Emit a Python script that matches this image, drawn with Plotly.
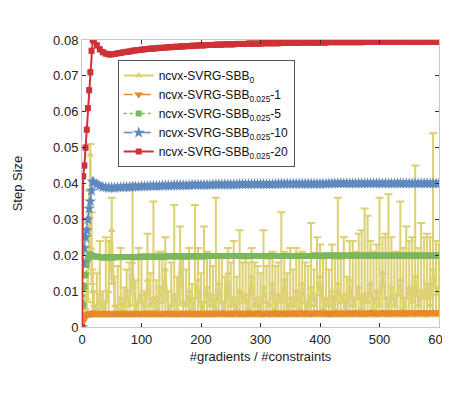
import plotly.graph_objects as go

# ---------------- data ----------------
X = [0, 2, 4, 6, 8, 10, 12, 14, 16, 18, 20] + list(range(25, 601, 5))

SBB0 = [0.000, 0.004, 0.006, 0.003, 0.008, 0.015, 0.030, 0.048, 0.022, 0.010, 0.006,
        0.005, 0.009, 0.004, 0.007, 0.010, 0.027, 0.006, 0.005, 0.008, 0.004,
        0.010, 0.006, 0.018, 0.005, 0.007, 0.009, 0.004, 0.013, 0.006, 0.008,
        0.005, 0.011, 0.007, 0.016, 0.004, 0.006, 0.009, 0.005, 0.020, 0.007,
        0.006, 0.010, 0.005, 0.008, 0.013, 0.004, 0.007, 0.011, 0.006, 0.009,
        0.005, 0.012, 0.007, 0.004, 0.015, 0.006, 0.008, 0.005, 0.010, 0.007,
        0.009, 0.005, 0.014, 0.006, 0.008, 0.004, 0.011, 0.007, 0.006, 0.012,
        0.005, 0.009, 0.007, 0.013, 0.004, 0.008, 0.006, 0.010, 0.005, 0.012,
        0.007, 0.004, 0.011, 0.006, 0.009, 0.014, 0.005, 0.008, 0.006, 0.010,
        0.005, 0.012, 0.007, 0.009, 0.004, 0.013, 0.006, 0.008, 0.011, 0.005,
        0.009, 0.007, 0.012, 0.005, 0.010, 0.006, 0.015, 0.008, 0.004, 0.011,
        0.006, 0.009, 0.013, 0.005, 0.008, 0.011, 0.007, 0.014, 0.006, 0.010,
        0.008, 0.012, 0.006, 0.016, 0.009, 0.011]
SBB0_ERR = [0.000, 0.002, 0.003, 0.002, 0.004, 0.006, 0.008, 0.003, 0.010, 0.006, 0.004,
            0.010, 0.015, 0.006, 0.018, 0.014, 0.009, 0.008, 0.012, 0.014, 0.007,
            0.006, 0.012, 0.022, 0.008, 0.015, 0.010, 0.006, 0.013, 0.009, 0.027,
            0.008, 0.010, 0.014, 0.009, 0.006, 0.012, 0.025, 0.009, 0.008, 0.012,
            0.010, 0.012, 0.007, 0.026, 0.009, 0.011, 0.021, 0.010, 0.014, 0.008,
            0.031, 0.008, 0.013, 0.010, 0.007, 0.012, 0.016, 0.009, 0.017, 0.011,
            0.010, 0.013, 0.008, 0.012, 0.009, 0.011, 0.016, 0.010, 0.013, 0.009,
            0.012, 0.009, 0.025, 0.008, 0.011, 0.014, 0.010, 0.012, 0.015, 0.009,
            0.011, 0.013, 0.018, 0.010, 0.016, 0.009, 0.014, 0.012, 0.010, 0.013,
            0.014, 0.024, 0.012, 0.016, 0.010, 0.011, 0.018, 0.013, 0.015, 0.022,
            0.024, 0.024, 0.012, 0.016, 0.013, 0.030, 0.010, 0.018, 0.033, 0.014,
            0.015, 0.012, 0.022, 0.017, 0.020, 0.013, 0.018, 0.031, 0.016, 0.019,
            0.017, 0.014, 0.019, 0.038, 0.015, 0.012]
SBB0_ERR_MINUS = [0.000, 0.001, 0.003, 0.000, 0.005, 0.008, 0.010, 0.010, 0.010, 0.007, 0.003,
                  0.002, 0.006, 0.001, 0.004, 0.007, 0.015, 0.003, 0.002, 0.005, 0.001,
                  0.007, 0.003, 0.012, 0.002, 0.004, 0.006, 0.001, 0.010, 0.003, 0.005,
                  0.002, 0.008, 0.004, 0.012, 0.001, 0.003, 0.006, 0.002, 0.014, 0.004,
                  0.003, 0.007, 0.002, 0.005, 0.010, 0.001, 0.004, 0.008, 0.003, 0.006,
                  0.002, 0.009, 0.004, 0.001, 0.011, 0.003, 0.005, 0.002, 0.007, 0.004,
                  0.006, 0.002, 0.010, 0.003, 0.005, 0.001, 0.008, 0.004, 0.003, 0.009,
                  0.002, 0.006, 0.004, 0.010, 0.001, 0.005, 0.003, 0.007, 0.002, 0.009,
                  0.004, 0.001, 0.008, 0.003, 0.006, 0.010, 0.002, 0.005, 0.003, 0.007,
                  0.002, 0.009, 0.004, 0.006, 0.001, 0.010, 0.003, 0.005, 0.008, 0.002,
                  0.006, 0.004, 0.009, 0.002, 0.007, 0.003, 0.011, 0.005, 0.001, 0.008,
                  0.003, 0.006, 0.010, 0.002, 0.005, 0.008, 0.004, 0.011, 0.003, 0.007,
                  0.005, 0.009, 0.003, 0.012, 0.006, 0.008]

SBB_1 = [0.0, 0.0015, 0.0025, 0.0030, 0.0033, 0.0035, 0.0036, 0.0037, 0.0037, 0.0037, 0.0037,
         0.0037, 0.0036, 0.0037, 0.0037, 0.0036, 0.0037, 0.0037, 0.0036, 0.0037, 0.0037,
         0.0037, 0.0036, 0.0037, 0.0037, 0.0037, 0.0036, 0.0037, 0.0037, 0.0037, 0.0037,
         0.0037, 0.0037, 0.0036, 0.0037, 0.0037, 0.0037, 0.0037, 0.0036, 0.0037, 0.0037,
         0.0037, 0.0037, 0.0037, 0.0037, 0.0036, 0.0037, 0.0037, 0.0037, 0.0037, 0.0037,
         0.0037, 0.0037, 0.0038, 0.0037, 0.0037, 0.0037, 0.0037, 0.0038, 0.0037, 0.0037,
         0.0037, 0.0038, 0.0037, 0.0037, 0.0038, 0.0037, 0.0037, 0.0038, 0.0037, 0.0038,
         0.0038, 0.0037, 0.0038, 0.0038, 0.0037, 0.0038, 0.0038, 0.0037, 0.0038, 0.0038,
         0.0038, 0.0038, 0.0037, 0.0038, 0.0038, 0.0038, 0.0038, 0.0038, 0.0037, 0.0038,
         0.0038, 0.0038, 0.0038, 0.0038, 0.0038, 0.0038, 0.0038, 0.0039, 0.0038, 0.0038,
         0.0038, 0.0038, 0.0039, 0.0038, 0.0038, 0.0038, 0.0039, 0.0038, 0.0038, 0.0039,
         0.0038, 0.0039, 0.0038, 0.0039, 0.0038, 0.0039, 0.0039, 0.0038, 0.0039, 0.0039,
         0.0039, 0.0038, 0.0039, 0.0039, 0.0039, 0.0039]

SBB_5 = [0.0, 0.0060, 0.0112, 0.0145, 0.0173, 0.0190, 0.0200, 0.0202, 0.0200, 0.0198, 0.0197,
         0.0196, 0.0195, 0.0194, 0.0194, 0.0194, 0.0194, 0.0194, 0.0195, 0.0195, 0.0195,
         0.0195, 0.0195, 0.0195, 0.0195, 0.0195, 0.0196, 0.0196, 0.0196, 0.0196, 0.0196,
         0.0196, 0.0196, 0.0196, 0.0196, 0.0197, 0.0197, 0.0197, 0.0197, 0.0197, 0.0197,
         0.0197, 0.0197, 0.0197, 0.0197, 0.0197, 0.0197, 0.0197, 0.0198, 0.0198, 0.0198,
         0.0198, 0.0198, 0.0198, 0.0198, 0.0198, 0.0198, 0.0198, 0.0198, 0.0198, 0.0198,
         0.0198, 0.0198, 0.0198, 0.0198, 0.0198, 0.0198, 0.0198, 0.0198, 0.0198, 0.0198,
         0.0198, 0.0198, 0.0198, 0.0198, 0.0198, 0.0198, 0.0198, 0.0198, 0.0198, 0.0198,
         0.0198, 0.0198, 0.0198, 0.0199, 0.0199, 0.0198, 0.0199, 0.0199, 0.0199, 0.0199,
         0.0199, 0.0199, 0.0199, 0.0199, 0.0199, 0.0199, 0.0199, 0.0199, 0.0199, 0.0199,
         0.0199, 0.0199, 0.0199, 0.0199, 0.0199, 0.0199, 0.0199, 0.0199, 0.0199, 0.0199,
         0.0199, 0.0199, 0.0199, 0.0199, 0.0199, 0.0199, 0.0199, 0.0199, 0.0199, 0.0199,
         0.0199, 0.0199, 0.0199, 0.0199, 0.0199, 0.0199]

SBB_10 = [0.0, 0.0180, 0.0220, 0.0250, 0.0270, 0.0300, 0.0330, 0.0350, 0.0380, 0.0405, 0.0402,
          0.0398, 0.0393, 0.0390, 0.0389, 0.0388, 0.0388, 0.0388, 0.0389, 0.0389, 0.0390,
          0.0390, 0.0390, 0.0391, 0.0391, 0.0391, 0.0392, 0.0392, 0.0392, 0.0393, 0.0393,
          0.0393, 0.0393, 0.0394, 0.0394, 0.0394, 0.0394, 0.0395, 0.0395, 0.0395, 0.0395,
          0.0395, 0.0395, 0.0396, 0.0396, 0.0396, 0.0396, 0.0396, 0.0396, 0.0396, 0.0397,
          0.0397, 0.0397, 0.0397, 0.0397, 0.0397, 0.0397, 0.0397, 0.0397, 0.0398, 0.0398,
          0.0398, 0.0398, 0.0398, 0.0398, 0.0398, 0.0398, 0.0398, 0.0398, 0.0398, 0.0398,
          0.0398, 0.0399, 0.0399, 0.0399, 0.0399, 0.0399, 0.0399, 0.0399, 0.0399, 0.0399,
          0.0399, 0.0399, 0.0399, 0.0399, 0.0399, 0.0399, 0.0399, 0.0399, 0.0400, 0.0400,
          0.0400, 0.0400, 0.0400, 0.0400, 0.0400, 0.0400, 0.0400, 0.0400, 0.0400, 0.0400,
          0.0400, 0.0400, 0.0400, 0.0400, 0.0400, 0.0400, 0.0400, 0.0400, 0.0400, 0.0400,
          0.0400, 0.0400, 0.0400, 0.0400, 0.0400, 0.0400, 0.0400, 0.0400, 0.0400, 0.0400,
          0.0400, 0.0400, 0.0400, 0.0400, 0.0400, 0.0400]

SBB_20 = [0.0, 0.0420, 0.0450, 0.0500, 0.0550, 0.0610, 0.0660, 0.0710, 0.0770, 0.0800, 0.0797,
          0.0785, 0.0774, 0.0766, 0.0762, 0.0760, 0.0760, 0.0761, 0.0763, 0.0764, 0.0766,
          0.0767, 0.0768, 0.0770, 0.0771, 0.0772, 0.0773, 0.0774, 0.0775, 0.0776, 0.0776,
          0.0777, 0.0778, 0.0778, 0.0779, 0.0780, 0.0780, 0.0781, 0.0781, 0.0782, 0.0782,
          0.0783, 0.0783, 0.0784, 0.0784, 0.0785, 0.0785, 0.0785, 0.0786, 0.0786, 0.0786,
          0.0787, 0.0787, 0.0787, 0.0788, 0.0788, 0.0788, 0.0788, 0.0789, 0.0789, 0.0789,
          0.0789, 0.0790, 0.0790, 0.0790, 0.0790, 0.0790, 0.0791, 0.0791, 0.0791, 0.0791,
          0.0791, 0.0791, 0.0792, 0.0792, 0.0792, 0.0792, 0.0792, 0.0792, 0.0792, 0.0793,
          0.0793, 0.0793, 0.0793, 0.0793, 0.0793, 0.0793, 0.0793, 0.0793, 0.0794, 0.0794,
          0.0794, 0.0794, 0.0794, 0.0794, 0.0794, 0.0794, 0.0794, 0.0794, 0.0794, 0.0794,
          0.0795, 0.0795, 0.0795, 0.0795, 0.0795, 0.0795, 0.0795, 0.0795, 0.0795, 0.0795,
          0.0795, 0.0795, 0.0795, 0.0795, 0.0795, 0.0795, 0.0795, 0.0795, 0.0795, 0.0795,
          0.0795, 0.0795, 0.0795, 0.0795, 0.0795, 0.0795]

BAND_ERR = 0.0007

NAMES = ["ncvx-SVRG-SBB<sub>0</sub>",
         "ncvx-SVRG-SBB<sub>0.025</sub>-1",
         "ncvx-SVRG-SBB<sub>0.025</sub>-5",
         "ncvx-SVRG-SBB<sub>0.025</sub>-10",
         "ncvx-SVRG-SBB<sub>0.025</sub>-20"]

X_TICKS = [0, 100, 200, 300, 400, 500, 600]
Y_TICKS = [0, 0.01, 0.02, 0.03, 0.04, 0.05, 0.06, 0.07, 0.08]
Y_TICK_TEXT = ["0", "0.01", "0.02", "0.03", "0.04", "0.05", "0.06", "0.07", "0.08"]

# ---------------- styles ----------------
YELLOW = "rgb(220,208,112)"
ORANGE = "rgb(232,137,44)"
GREEN = "rgb(125,182,92)"
BLUE = "rgb(96,137,190)"
RED = "rgb(206,50,54)"
FONT = "Liberation Sans, Arial, sans-serif"

fig = go.Figure()

fig.add_trace(go.Scatter(
    x=X, y=SBB0, name=NAMES[0], mode="lines+markers",
    line=dict(color=YELLOW, width=2),
    marker=dict(symbol="triangle-up", size=7, color=YELLOW),
    error_y=dict(type="data", array=SBB0_ERR, symmetric=False,
                 arrayminus=SBB0_ERR_MINUS,
                 color=YELLOW, thickness=2, width=4),
))
fig.add_trace(go.Scatter(
    x=X, y=SBB_1, name=NAMES[1], mode="lines+markers",
    line=dict(color=ORANGE, width=1.5, dash="dash"),
    marker=dict(symbol="triangle-down", size=8, color=ORANGE),
    error_y=dict(type="constant", value=BAND_ERR, color=ORANGE, thickness=1, width=2),
))
fig.add_trace(go.Scatter(
    x=X, y=SBB_5, name=NAMES[2], mode="lines+markers",
    line=dict(color=GREEN, width=1.5, dash="dot"),
    marker=dict(symbol="square", size=6, color=GREEN),
    error_y=dict(type="constant", value=BAND_ERR, color=GREEN, thickness=1, width=2),
))
fig.add_trace(go.Scatter(
    x=X, y=SBB_10, name=NAMES[3], mode="lines+markers",
    line=dict(color=BLUE, width=1.5, dash="dashdot"),
    marker=dict(symbol="star", size=9, color=BLUE),
    error_y=dict(type="constant", value=BAND_ERR, color=BLUE, thickness=1, width=2),
))
fig.add_trace(go.Scatter(
    x=X, y=SBB_20, name=NAMES[4], mode="lines+markers",
    line=dict(color=RED, width=2),
    marker=dict(symbol="square", size=6, color=RED),
    error_y=dict(type="constant", value=BAND_ERR, color=RED, thickness=1, width=2),
))

axis_common = dict(
    showline=True, linecolor="#c8c8c8", linewidth=1, mirror="ticks",
    ticks="inside", ticklen=4, tickcolor="#333333", tickwidth=1,
    showgrid=False, zeroline=False, automargin=False,
    tickfont=dict(family=FONT, size=13, color="#222222"),
)

# The page body adds an 8px offset; the figure is sized so the page does not
# overflow, and margins place the plot area where it is in the reference.
fig.update_layout(
    width=442, height=370,
    margin=dict(l=74, r=11, t=32, b=51),
    paper_bgcolor="white", plot_bgcolor="white",
    font=dict(family=FONT, size=13, color="#222222"),
    showlegend=True,
    legend=dict(
        x=0.1, y=0.93, xanchor="left", yanchor="top",
        bgcolor="white", bordercolor="#555555", borderwidth=1,
        font=dict(size=12, color="#111111"),
        tracegroupgap=0, itemwidth=30,
    ),
    xaxis=dict(range=[0, 600], tickvals=X_TICKS, ticklabeloverflow="allow",
               title=dict(text="#gradients / #constraints", standoff=6,
                          font=dict(size=13)), **axis_common),
    yaxis=dict(range=[0, 0.08], tickvals=Y_TICKS, ticktext=Y_TICK_TEXT,
               title=dict(text="Step Size", standoff=27, font=dict(size=13)),
               **axis_common),
)

fig.write_html("out.html")
